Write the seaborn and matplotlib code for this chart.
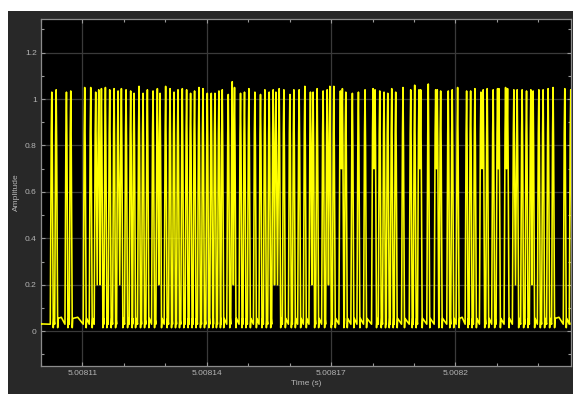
import numpy as np
import matplotlib
matplotlib.use("Agg")
import matplotlib.pyplot as plt
from matplotlib.patches import Rectangle
import seaborn as sns

# ---------------- data (times in microseconds after 5.0081 s) ----------------
t0_s = 5.0081
pulse_us = [
    2.60, 3.66, 6.14, 7.18, 10.55, 12.00, 13.20, 13.93, 14.58, 15.54,
    16.58, 17.64, 18.60, 19.40, 20.53, 21.64, 22.46, 23.66, 24.63, 25.67,
    27.04, 28.08, 28.73, 30.08, 31.14, 32.10, 33.06, 34.10, 35.14, 36.10,
    37.06, 38.12, 39.09, 40.13, 41.09, 41.98, 42.94, 43.74, 45.19, 46.15,
    46.70, 48.15, 49.11, 50.17,
    51.62, 52.97, 54.03, 55.07, 56.03, 56.68, 57.48, 58.61, 60.06, 61.02,
    62.30, 63.67, 65.02, 65.67, 66.64, 68.08, 69.05, 69.70, 70.66, 72.25,
    72.73, 73.55, 75.14, 76.60,
    78.20, 80.13, 80.61, 81.75, 82.78, 83.68, 84.64, 85.60, 87.36, 89.22,
    90.18, 91.22, 91.63, 93.46, 95.24, 95.63, 96.45, 98.28, 99.24, 100.54,
    102.71, 103.68, 104.71, 106.16, 106.71, 107.68, 109.12, 110.18, 110.50, 112.11,
    112.59, 114.11, 114.91, 116.11, 117.17, 118.21, 118.76, 120.14, 121.17, 122.38,
    123.58, 126.40, 127.84,
]
pulse_peak = [
    1.030, 1.040, 1.030, 1.035, 1.050, 1.050, 1.030, 1.040, 1.045, 1.050,
    1.040, 1.045, 1.035, 1.045, 1.040, 1.035, 1.025, 1.055, 1.025, 1.040,
    1.035, 1.045, 1.025, 1.055, 1.045, 1.030, 1.040, 1.045, 1.040, 1.025,
    1.035, 1.050, 1.045, 1.025, 1.025, 1.025, 1.035, 1.040, 1.020, 1.075,
    1.050, 1.025, 1.030, 1.045,
    1.030, 1.020, 1.040, 1.030, 1.040, 1.030, 1.045, 1.040, 1.020, 1.040,
    1.040, 1.055, 1.030, 1.030, 1.045, 1.035, 1.040, 1.055, 1.055, 1.035,
    1.045, 1.030, 1.025, 1.030,
    1.040, 1.045, 1.040, 1.035, 1.030, 1.025, 1.045, 1.030, 1.050, 1.040,
    1.060, 1.040, 1.040, 1.065, 1.040, 1.040, 1.035, 1.035, 1.040, 1.050,
    1.035, 1.035, 1.045, 1.030, 1.040, 1.045, 1.040, 1.045, 1.045, 1.050,
    1.045, 1.040, 1.040, 1.040, 1.035, 1.040, 1.035, 1.040, 1.040, 1.045,
    1.050, 1.045, 1.040,
]
baseline_level = 0.03
shoulder_level = 0.85

x_limits_us = [0.10, 127.90]
y_limits = [-0.15, 1.345]
xtick_vals = [5.00811, 5.00814, 5.00817, 5.0082]
xtick_labels = ["5.00811", "5.00814", "5.00817", "5.0082"]
ytick_vals = [0, 0.2, 0.4, 0.6, 0.8, 1.0, 1.2]
ytick_labels = ["0", "0.2", "0.4", "0.6", "0.8", "1", "1.2"]

# ---------------- build the trace vertices from the pulse list ----------------
HALF = 0.36      # half width of a pulse foot (us)
xs = [x_limits_us[0]]
ys = [baseline_level]
n = len(pulse_us)
for i, (t, h) in enumerate(zip(pulse_us, pulse_peak)):
    prev_gap = t - pulse_us[i - 1] if i > 0 else 99
    next_gap = pulse_us[i + 1] - t if i < n - 1 else 99
    if prev_gap >= 0.8:
        if prev_gap > 2.0:
            xs.append(t - prev_gap / 2); ys.append(baseline_level + 0.03)
        xs.append(t - HALF); ys.append(baseline_level)
    if prev_gap > 0.45:
        xs.append(t - 0.13); ys.append(shoulder_level)
    xs.append(t); ys.append(h)
    if next_gap > 0.45:
        xs.append(t + 0.12); ys.append(shoulder_level - 0.05)
    if next_gap >= 0.8:
        xs.append(t + HALF); ys.append(baseline_level - 0.015)
        xs.append(t + HALF + 0.12); ys.append(baseline_level + 0.025)
    else:
        xs.append(t + next_gap / 2)
        ys.append(0.2 if next_gap >= 0.55 else 0.7)
xs.append(x_limits_us[1]); ys.append(baseline_level)

x_sec = t0_s + np.array(xs) * 1e-6

# ---------------- figure ----------------
sns.set_style("dark")
plt.rcParams["font.family"] = ["Liberation Sans", "DejaVu Sans"]

fig = plt.figure(figsize=(5.73, 3.94), dpi=100, facecolor="#282828")
fig.patches.append(Rectangle((0, 1 - 11 / 394), 1, 11 / 394, transform=fig.transFigure,
                             facecolor="white", edgecolor="none", zorder=0))
fig.patches.append(Rectangle((0, 0), 8 / 573, 1, transform=fig.transFigure,
                             facecolor="white", edgecolor="none", zorder=0))

ax = fig.add_axes([41 / 573, 1 - 366 / 394, 530 / 573, 347 / 394])
ax.set_facecolor("black")

sns.lineplot(x=x_sec, y=ys, sort=False, estimator=None, color="#ffff00",
             linewidth=1.15, ax=ax, zorder=3)

ax.set_xlim(t0_s + x_limits_us[0] * 1e-6, t0_s + x_limits_us[1] * 1e-6)
ax.set_ylim(*y_limits)

ax.set_xticks(xtick_vals)
ax.set_xticklabels(xtick_labels)
ax.set_xticks([t0_s + k * 1e-5 for k in range(0, 13)], minor=True)
ax.set_yticks(ytick_vals)
ax.set_yticklabels(ytick_labels)
ax.set_yticks([v / 10 for v in range(-1, 14)], minor=True)

ax.grid(True, which="major", color="#3a3a3a", linewidth=0.9)
ax.tick_params(which="both", direction="in", top=True, right=True,
               bottom=True, left=True, color="#9a9a9a", labelcolor="#b4b4b4",
               labelsize=6, width=0.8)
ax.tick_params(which="major", length=3, pad=3)
ax.tick_params(which="minor", length=2)
for s in ax.spines.values():
    s.set_color("#8c8c8c")
    s.set_linewidth(0.9)

ax.set_xlabel("Time (s)", color="#b4b4b4", fontsize=6, labelpad=2)
ax.set_ylabel("Amplitude", color="#b4b4b4", fontsize=6, labelpad=4)

fig.savefig("out.png", dpi=100, facecolor=fig.get_facecolor())
